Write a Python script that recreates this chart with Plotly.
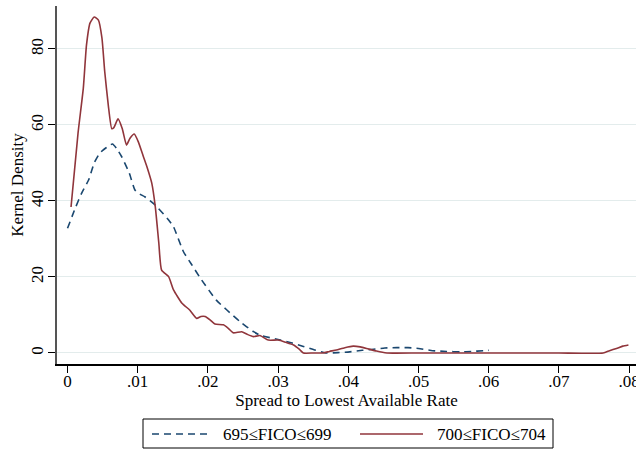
import plotly.graph_objects as go

# ---- data ----
x_red = [0.0005, 0.0015, 0.00225, 0.0027, 0.0032, 0.0038, 0.0044, 0.0049, 0.0053, 0.0058,
         0.0063, 0.0066, 0.0072, 0.0078, 0.0084, 0.0089, 0.0095, 0.0101, 0.0108, 0.0114,
         0.012, 0.0125, 0.0130, 0.0134, 0.0144, 0.0151, 0.0163, 0.0174, 0.0184, 0.0190,
         0.0196, 0.0203, 0.021, 0.0222, 0.0229, 0.0236, 0.0248, 0.0256, 0.0265, 0.0274,
         0.0286, 0.030, 0.0311, 0.0322, 0.0330, 0.0336, 0.0350, 0.0364, 0.0373, 0.0383,
         0.0395, 0.0407, 0.0417, 0.0426, 0.0440, 0.0455, 0.050, 0.055, 0.060, 0.065,
         0.070, 0.0763, 0.0772, 0.0782, 0.0791, 0.0799]
y_red = [38.4, 57.9, 69.7, 81.0, 86.8, 88.4, 87.6, 82.9, 74.0, 65.3,
         59.0, 59.3, 61.6, 59.0, 54.7, 56.5, 57.6, 55.5, 51.7, 48.5,
         44.7, 38.5, 29.0, 21.8, 20.1, 16.6, 13.1, 11.3, 9.1, 9.6,
         9.6, 8.7, 7.6, 7.4, 6.5, 5.3, 5.6, 4.9, 4.3, 4.6,
         3.4, 3.4, 2.8, 2.1, 1.0, 0.0, 0.0, 0.0, 0.4, 0.8,
         1.4, 1.8, 1.6, 1.2, 0.5, 0.0, 0.0, 0.0, 0.0, 0.0,
         0.0, 0.0, 0.6, 1.2, 1.8, 2.1]

x_blue = [0.0000, 0.0011, 0.0020, 0.0030, 0.0038, 0.0046, 0.0055, 0.0064, 0.0070, 0.0077,
          0.0088, 0.0096, 0.0103, 0.0110, 0.0125, 0.0144, 0.0151, 0.0165, 0.0177, 0.0191,
          0.0212, 0.0227, 0.0246, 0.0265, 0.0274, 0.0303, 0.0320, 0.0336, 0.0352, 0.0369,
          0.0385, 0.0402, 0.0420, 0.0436, 0.0452, 0.0469, 0.0485, 0.0500, 0.0520, 0.0540,
          0.0560, 0.0575, 0.0592, 0.0600]
y_blue = [32.8, 38.1, 42.0, 45.5, 50.0, 52.6, 54.0, 55.0, 53.8, 51.7,
          47.3, 42.9, 41.8, 41.1, 38.9, 35.0, 33.2, 26.7, 23.2, 19.2,
          13.9, 11.3, 8.2, 5.6, 4.7, 3.4, 2.6, 1.7, 0.8, 0.0,
          0.1, 0.3, 0.7, 1.0, 1.3, 1.4, 1.4, 1.2, 0.6, 0.4,
          0.3, 0.4, 0.6, 0.7]

x_ticks = [0, 0.01, 0.02, 0.03, 0.04, 0.05, 0.06, 0.07, 0.08]
x_tick_labels = ["0", ".01", ".02", ".03", ".04", ".05", ".06", ".07", ".08"]
y_ticks = [0, 20, 40, 60, 80]
y_tick_labels = ["0", "20", "40", "60", "80"]
series_names = ["695≤FICO≤699", "700≤FICO≤704"]

NAVY = "#1a476f"
MAROON = "#90353b"
FONT = "Liberation Serif, Times New Roman, serif"
FS = 17

W, H = 636, 451
L, R, T, B = 57, 0, 6, 87
PW, PH = W - L - R, H - T - B


def px_x(p):
    return (p - L) / PW


def px_y(p):
    return (H - B - p) / PH


fig = go.Figure()
fig.add_trace(go.Scatter(x=x_blue, y=y_blue, mode="lines", name=series_names[0],
                         line=dict(color=NAVY, width=1.6, dash="7px,5px", shape="spline", smoothing=0.5),
                         showlegend=False))
fig.add_trace(go.Scatter(x=x_red, y=y_red, mode="lines", name=series_names[1],
                         line=dict(color=MAROON, width=1.6, shape="spline", smoothing=0.5),
                         showlegend=False))

# manual legend box
shapes = [
    dict(type="rect", xref="paper", yref="paper", x0=px_x(143), x1=px_x(553), y0=px_y(448), y1=px_y(419),
         line=dict(color="black", width=1), fillcolor="white", layer="above"),
    dict(type="line", xref="paper", yref="paper", x0=px_x(152), x1=px_x(212), y0=px_y(434), y1=px_y(434),
         line=dict(color=NAVY, width=1.6, dash="7px,5px")),
    dict(type="line", xref="paper", yref="paper", x0=px_x(360), x1=px_x(423), y0=px_y(434), y1=px_y(434),
         line=dict(color=MAROON, width=1.6)),
]
annotations = [
    dict(text=series_names[0], xref="paper", yref="paper", x=px_x(221), y=px_y(434), xanchor="left",
         yanchor="middle", showarrow=False, font=dict(family=FONT, size=FS, color="black")),
    dict(text=series_names[1], xref="paper", yref="paper", x=px_x(435), y=px_y(434), xanchor="left",
         yanchor="middle", showarrow=False, font=dict(family=FONT, size=FS, color="black")),
]

fig.update_layout(
    width=W, height=H,
    margin=dict(l=L, r=R, t=T, b=B),
    paper_bgcolor="white", plot_bgcolor="white",
    font=dict(family=FONT, size=FS, color="black"),
    shapes=shapes, annotations=annotations,
    xaxis=dict(range=[-0.0015, -0.0015 + PW / 7020.0], tickvals=x_ticks, ticktext=x_tick_labels,
               automargin=False, ticklabeloverflow="allow", ticklabelstandoff=-6,
               showgrid=False, zeroline=False, showline=True, linecolor="black", linewidth=1.5,
               ticks="outside", ticklen=7, tickcolor="black", tickwidth=1,
               tickfont=dict(family=FONT, size=FS),
               title=dict(text="Spread to Lowest Available Rate", standoff=1,
                          font=dict(family=FONT, size=FS))),
    yaxis=dict(range=[-2.9, 91.3], tickvals=y_ticks, ticktext=y_tick_labels, tickangle=-90,
               automargin=False, ticklabelstandoff=-2,
               showgrid=True, gridcolor="#e3ecec", gridwidth=1, zeroline=False,
               showline=True, linecolor="#555555", linewidth=1.5,
               ticks="outside", ticklen=7, tickcolor="black", tickwidth=1,
               tickfont=dict(family=FONT, size=FS),
               title=dict(text="Kernel Density", standoff=1, font=dict(family=FONT, size=FS))),
)

fig.write_html("out.html", config={"displayModeBar": False},
               post_script="document.body.style.margin='0';document.body.style.overflow='hidden';")
